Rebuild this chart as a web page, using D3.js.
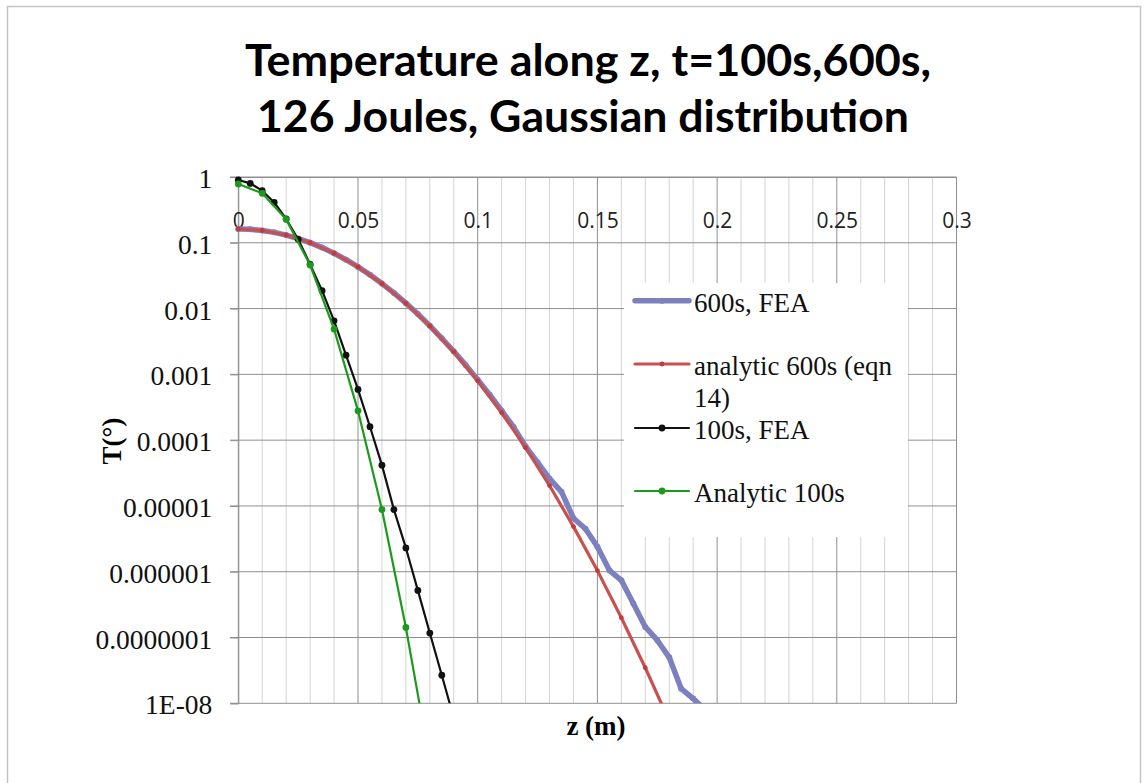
<!DOCTYPE html>
<html>
<head>
<meta charset="utf-8">
<script src="https://cdn.jsdelivr.net/npm/d3@7"></script>
<style>
  html, body { margin: 0; padding: 0; background: #fff; }
  svg { display: block; }
</style>
</head>
<body>
<svg id="chart" width="1146" height="783"></svg>
<script>
// Temperature profiles along z (log scale), FEA vs analytic solutions
const titleLines = ["Temperature along z, t=100s,600s,", "126 Joules, Gaussian distribution"];

const xTicks = [0, 0.05, 0.1, 0.15, 0.2, 0.25, 0.3];
const xTickLabels = ["0", "0.05", "0.1", "0.15", "0.2", "0.25", "0.3"];
const xMinor = [0.01,0.02,0.03,0.04,0.06,0.07,0.08,0.09,0.11,0.12,0.13,0.14,0.16,0.17,0.18,0.19,0.21,0.22,0.23,0.24,0.26,0.27,0.28,0.29];
const yTicks = [1, 0.1, 0.01, 0.001, 1e-4, 1e-5, 1e-6, 1e-7, 1e-8];
const yTickLabels = ["1", "0.1", "0.01", "0.001", "0.0001", "0.00001", "0.000001", "0.0000001", "1E-08"];

// 600 s, FEA
const zFea600 = [0,0.005,0.01,0.015,0.02,0.025,0.03,0.035,0.04,0.045,0.05,0.055,0.06,0.065,0.07,0.075,0.08,0.085,0.09,0.095,
                 0.1,0.105,0.11,0.115,0.12,0.125,0.13,0.135,0.14,0.145,0.15,0.155,0.16,0.165,0.17,0.175,0.18,0.185,0.19,0.195];
const tFea600 = [0.162,0.160,0.154,0.144,0.131,0.116,0.1005,0.0845,0.0693,0.0553,0.0430,0.0326,0.0240,0.0173,0.0121,0.00825,0.00548,0.00353,0.00224,0.00138,
                 8.3e-4,4.9e-4,2.8e-4,1.58e-4,8.0e-5,4.6e-5,2.6e-5,1.64e-5,6.5e-6,4.5e-6,2.4e-6,1.05e-6,7.4e-7,3.3e-7,1.45e-7,9.1e-8,5.0e-8,1.67e-8,1.18e-8,8.0e-9];

// analytic 600 s (eqn 14)
const zAna600 = [0,0.01,0.02,0.03,0.04,0.05,0.06,0.07,0.08,0.09,0.1,0.11,0.12,0.13,0.14,0.15,0.16,0.17,0.18];
const tAna600 = [0.162,0.154,0.131,0.1005,0.0693,0.0430,0.0239,0.0120,0.00541,0.00219,7.98e-4,2.61e-4,7.7e-5,2.04e-5,4.85e-6,1.04e-6,2.0e-7,3.47e-8,5.4e-9];

// 100 s, FEA
const zFea100 = [0,0.005,0.01,0.015,0.02,0.025,0.03,0.035,0.04,0.045,0.05,0.055,0.06,0.065,0.07,0.075,0.08,0.085,0.09];
const tFea100 = [0.90,0.80,0.62,0.41,0.23,0.113,0.047,0.0187,0.00652,0.00196,5.9e-4,1.6e-4,4.17e-5,8.8e-6,2.3e-6,5.2e-7,1.17e-7,2.67e-8,6.0e-9];

// Analytic 100 s
const zAna100 = [0,0.01,0.02,0.03,0.04,0.05,0.06,0.07,0.08];
const tAna100 = [0.783,0.565,0.227,0.0459,0.00488,2.79e-4,8.8e-6,1.42e-7,1.3e-9];

const seriesNames = ["600s, FEA", "analytic 600s (eqn", "100s, FEA", "Analytic 100s"];

const svg = d3.select("#chart");

// outer chart frame
svg.append("rect").attr("x", 7.5).attr("y", 6.5).attr("width", 1133).attr("height", 800)
  .attr("fill", "#fff").attr("stroke", "#c4c4c4").attr("stroke-width", 1.5);

const x = d3.scaleLinear().domain([0, 0.3]).range([238.3, 956.5]);
const y = d3.scaleLog().domain([1, 1e-8]).range([177, 703.3]);

// title
const title = svg.append("g").attr("font-family", "Lato, 'Open Sans', sans-serif").attr("font-weight", "bold")
  .attr("font-size", 44).attr("fill", "#000").attr("text-anchor", "middle");
title.append("text").attr("x", 588).attr("y", 76).attr("textLength", 686).attr("lengthAdjust", "spacingAndGlyphs").text(titleLines[0]);
title.append("text").attr("x", 583).attr("y", 132).attr("textLength", 652).attr("lengthAdjust", "spacingAndGlyphs").text(titleLines[1]);

// grid
const grid = svg.append("g");
grid.selectAll("line.minor").data(xMinor).join("line").attr("class", "minor")
  .attr("x1", d => x(d)).attr("x2", d => x(d)).attr("y1", y(1)).attr("y2", y(1e-8))
  .attr("stroke", "#d4d4d4").attr("stroke-width", 1);
grid.selectAll("line.major").data(xTicks).join("line").attr("class", "major")
  .attr("x1", d => x(d)).attr("x2", d => x(d)).attr("y1", y(1)).attr("y2", y(1e-8))
  .attr("stroke", "#8f8f8f").attr("stroke-width", 1);
grid.selectAll("line.h").data(yTicks).join("line").attr("class", "h")
  .attr("x1", 230).attr("x2", x(0.3)).attr("y1", d => y(d)).attr("y2", d => y(d))
  .attr("stroke", "#8f8f8f").attr("stroke-width", 1);

// y axis labels
const yAxis = d3.axisLeft(y).tickValues(yTicks).tickFormat((d, i) => yTickLabels[i]).tickSize(8).tickPadding(18);
const gy = svg.append("g").attr("transform", `translate(${x(0)},0)`).call(yAxis);
gy.select(".domain").attr("stroke", "#8f8f8f");
gy.selectAll(".tick line").attr("stroke", "#8f8f8f");
gy.selectAll(".tick text").attr("font-family", "'Liberation Serif', serif").attr("font-size", 27.5)
  .attr("fill", "#111").attr("dy", 10.5);

// x axis labels (axis crosses at T = 1)
const xAxis = d3.axisBottom(x).tickValues(xTicks).tickFormat((d, i) => xTickLabels[i]).tickSize(0);
const gx = svg.append("g").attr("transform", `translate(0,${y(1)})`).call(xAxis);
gx.select(".domain").attr("stroke", "#8f8f8f");
gx.selectAll(".tick text").attr("font-family", "'Open Sans', sans-serif").attr("font-size", 21)
  .attr("fill", "#222").attr("y", 51).attr("dy", 0);

// axis titles
svg.append("text").attr("x", 596).attr("y", 735).attr("text-anchor", "middle")
  .attr("font-family", "'Liberation Serif', serif").attr("font-weight", "bold").attr("font-size", 27).text("z (m)");
svg.append("text").attr("transform", "translate(121,441) rotate(-90)").attr("text-anchor", "middle")
  .attr("font-family", "'Liberation Serif', serif").attr("font-weight", "bold").attr("font-size", 27).text("T(°)");

// series
svg.append("clipPath").attr("id", "plotclip").append("rect")
  .attr("x", x(0) - 6).attr("y", y(1) - 6).attr("width", x(0.3) - x(0) + 12).attr("height", y(1e-8) - y(1) + 6);

const series = [
  { z: zFea600, t: tFea600, color: "#7d80bf", width: 5.5, r: 3, mcolor: "#7d80bf" },
  { z: zAna600, t: tAna600, color: "#c9504f", width: 3.2, r: 2.4, mcolor: "#c23b3b" },
  { z: zFea100, t: tFea100, color: "#111111", width: 2.2, r: 3.4, mcolor: "#111111" },
  { z: zAna100, t: tAna100, color: "#1c9a1c", width: 2.2, r: 3.4, mcolor: "#1c9a1c" }
];

const plot = svg.append("g").attr("clip-path", "url(#plotclip)");
const line = d3.line().x(d => x(d[0])).y(d => y(d[1]));
series.forEach(s => {
  const pts = s.z.map((z, i) => [z, s.t[i]]);
  plot.append("path").datum(pts).attr("d", line).attr("fill", "none")
    .attr("stroke", s.color).attr("stroke-width", s.width).attr("stroke-linejoin", "round").attr("stroke-linecap", "round");
  plot.append("g").selectAll("circle").data(pts.filter(p => p[1] >= 1e-8)).join("circle")
    .attr("cx", p => x(p[0])).attr("cy", p => y(p[1])).attr("r", s.r).attr("fill", s.mcolor);
});

// legend
const lg = svg.append("g");
lg.append("rect").attr("x", 624).attr("y", 283).attr("width", 284).attr("height", 254).attr("fill", "#fff");
const rowsY = [300.7, 364, 428, 491];
series.forEach((s, i) => {
  const yy = rowsY[i];
  lg.append("line").attr("x1", 635).attr("x2", 689).attr("y1", yy).attr("y2", yy)
    .attr("stroke", s.color).attr("stroke-width", s.width).attr("stroke-linecap", "round");
  lg.append("circle").attr("cx", 662).attr("cy", yy).attr("r", s.r).attr("fill", s.mcolor);
  lg.append("text").attr("x", 694).attr("y", yy + 11).attr("font-family", "'Liberation Serif', serif")
    .attr("font-size", 27).attr("fill", "#111").text(seriesNames[i]);
});
lg.append("text").attr("x", 694).attr("y", 407).attr("font-family", "'Liberation Serif', serif")
  .attr("font-size", 27).attr("fill", "#111").text("14)");
</script>
</body>
</html>
